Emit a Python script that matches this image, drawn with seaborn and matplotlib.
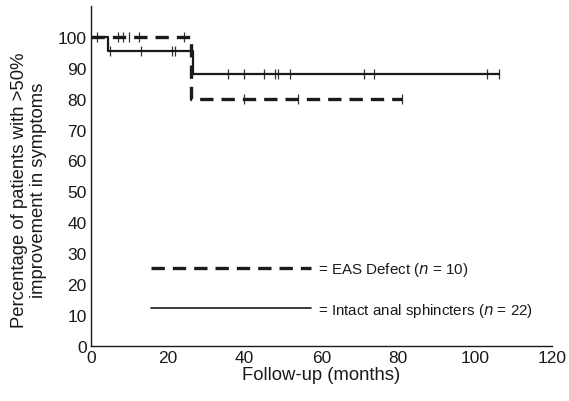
import matplotlib
matplotlib.use("Agg")
import matplotlib.pyplot as plt
import seaborn as sns
import pandas as pd
from matplotlib.lines import Line2D

# Step curves (Kaplan-Meier)
eas_t = [0, 26, 81]
eas_s = [100, 80, 80]
intact_t = [0, 4.5, 26.5, 106.2]
intact_s = [100, 95.5, 88, 88]

# Censor marks
eas_cens_t = [7, 8.3, 10, 12.5, 24.2, 39.7, 54, 81]
eas_cens_s = [100, 100, 100, 100, 100, 80, 80, 80]
intact_cens_t = [1.5, 5.0, 13, 21.2, 21.9, 35.7, 39.8, 45, 47.9, 48.6, 51.8, 71.1, 73.7, 103, 106.2]
intact_cens_s = [100, 95.5, 95.5, 95.5, 95.5, 88, 88, 88, 88, 88, 88, 88, 88, 88, 88]

x_ticks = [0, 20, 40, 60, 80, 100, 120]
y_ticks = [0, 10, 20, 30, 40, 50, 60, 70, 80, 90, 100]

sns.set_style("white")
plt.rcParams['font.family'] = ['Liberation Sans', 'DejaVu Sans']

fig = plt.figure(figsize=(5.69, 4.02), dpi=100)
ax = fig.add_axes([0.16, 0.137, 0.81, 0.846])

df_eas = pd.DataFrame({"t": eas_t, "s": eas_s})
df_int = pd.DataFrame({"t": intact_t, "s": intact_s})

sns.lineplot(data=df_int, x="t", y="s", ax=ax, estimator=None, sort=False,
             drawstyle="steps-post", color="#1a1a1a", linewidth=1.6)
sns.lineplot(data=df_eas, x="t", y="s", ax=ax, estimator=None, sort=False,
             drawstyle="steps-post", color="#1a1a1a", linewidth=2.4,
             linestyle=(0, (4.0, 2.4)))

sns.scatterplot(x=intact_cens_t, y=intact_cens_s, ax=ax, marker="|", s=45,
                color="#333333", linewidth=0.9)
sns.scatterplot(x=eas_cens_t, y=eas_cens_s, ax=ax, marker="|", s=45,
                color="#333333", linewidth=0.9)

ax.set_xlim(0, 120)
ax.set_ylim(0, 110)
ax.set_xticks(x_ticks)
ax.set_yticks(y_ticks)
ax.tick_params(direction="in", length=3, width=0.8, labelsize=12.5, colors="#1a1a1a", pad=3)
for side in ["top", "right"]:
    ax.spines[side].set_visible(False)
for side in ["left", "bottom"]:
    ax.spines[side].set_color("#1a1a1a")
    ax.spines[side].set_linewidth(1.0)

ax.set_xlabel("Follow-up (months)", fontsize=13.3, color="#1a1a1a", labelpad=1)
ax.set_ylabel("Percentage of patients with >50%\nimprovement in symptoms", fontsize=13.3,
              color="#1a1a1a", linespacing=1.2)
ax.yaxis.set_label_coords(-0.095, 0.46)

handles = [
    Line2D([0], [0], color="#1a1a1a", linewidth=2.4, linestyle=(0, (4.0, 2.4))),
    Line2D([0], [0], color="#1a1a1a", linewidth=1.2),
]
labels = ["= EAS Defect ($\\it{n}$ = 10)", "= Intact anal sphincters ($\\it{n}$ = 22)"]
leg = ax.legend(handles, labels, loc="lower left", bbox_to_anchor=(0.1, 0.04),
                frameon=False, fontsize=10.9, handlelength=10.6, handletextpad=0.45,
                labelspacing=1.5)
for t in leg.get_texts():
    t.set_color("#1a1a1a")

fig.savefig("out.png", dpi=100)
